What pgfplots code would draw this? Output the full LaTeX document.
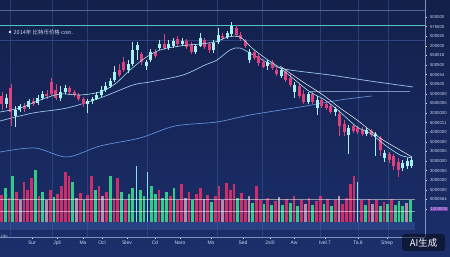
\documentclass[border=0pt]{standalone}
\usepackage{fontspec}
\setmainfont{Liberation Sans}
\newfontfamily\cjk{Noto Sans CJK SC}
\usepackage{pgfplots}
\pgfplotsset{compat=1.18}
\usepackage{pgfplotstable}
\definecolor{bgtop}{HTML}{13204B}
\definecolor{bgbot}{HTML}{1C2F6C}
\definecolor{upc}{HTML}{A6F0EE}
\definecolor{dnc}{HTML}{E0407E}
\definecolor{vpink}{HTML}{CC2E6A}
\definecolor{vgreen}{HTML}{33C98A}
\definecolor{vpale}{HTML}{B68AAE}
\definecolor{vcyan}{HTML}{7FE3F2}
\definecolor{topline}{HTML}{52C4C4}
\definecolor{gridc}{HTML}{3A5596}
\definecolor{labc}{HTML}{C9D3EE}
\definecolor{maA}{HTML}{A8E6F2}
\definecolor{maB}{HTML}{9CC6EC}
\definecolor{maC}{HTML}{5E8FDA}
\definecolor{vpurple}{HTML}{7B3AAE}
\setlength{\fboxsep}{0.6bp}

% candle data (y measured downward, chart units)
\pgfplotstableread{
x o c h l
2.0 96 104 92 110
6.5 104 98 94 108
11.0 88 112 84 126
15.5 116 110 106 127
20.0 110 106 104 112
24.5 106 109 103 112
29.0 107 101 99 109
33.5 101 104 98 106
38.0 103 98 95 105
42.5 98 94 91 100
47.0 94 96 90 99
51.5 82 94 78 96
56.0 90 98 84 100
60.5 98 92 86 101
65.0 92 88 85 94
69.5 88 92 86 95
74.0 92 95 90 97
78.5 95 99 93 101
83.0 99 104 97 107
87.5 104 101 99 113
92.0 101 99 97 104
96.5 99 95 92 100
101.0 95 90 86 97
105.5 90 86 82 92
110.0 86 81 78 88
114.5 80 72 66 82
119.0 70 75 64 77
123.5 62 70 57 72
128.0 70 64 60 73
132.5 64 50 42 66
137.0 50 45 42 60
141.5 54 62 52 65
146.0 66 62 60 70
150.5 60 52 49 62
155.0 52 56 49 58
159.5 48 44 40 50
164.0 44 48 34 50
168.5 48 44 40 50
173.0 46 41 38 48
177.5 39 44 36 46
182.0 44 41 38 46
186.5 41 47 39 49
191.0 44 52 42 54
195.5 52 46 44 54
200.0 46 38 33 47
204.5 40 47 38 49
209.0 44 50 42 53
213.5 50 43 40 53
218.0 42 35 28 44
222.5 36 38 33 40
227.0 37 33 31 39
231.5 34 26 22 37
236.0 28 35 25 37
240.5 35 39 32 41
245.0 41 46 39 48
249.5 60 52 49 63
254.0 52 58 50 60
258.5 56 63 54 66
263.0 62 67 59 68
267.5 66 62 60 70
272.0 62 68 60 70
276.5 70 74 66 76
281.0 76 70 68 78
285.5 72 80 70 82
290.0 78 85 74 87
294.5 92 85 82 98
299.0 86 96 84 98
303.5 94 102 90 104
308.0 102 94 92 104
312.5 94 102 92 104
317.0 108 100 96 115
321.5 100 106 98 108
326.0 104 108 101 110
330.5 106 112 104 114
335.0 112 109 107 116
339.5 114 126 110 136
344.0 124 132 120 136
348.5 135 128 125 154
353.0 126 131 124 133
357.5 128 132 126 134
362.0 130 134 127 136
366.5 134 130 128 136
371.0 131 135 129 137
375.5 136 134 132 156
380.0 138 150 136 156
384.5 158 153 150 162
389.0 154 160 152 163
393.5 156 166 154 170
398.0 162 170 158 177
402.5 168 163 160 171
407.0 166 161 158 169
411.5 166 160 157 168
}\candles

% volume data: x, top of bar, class (0 pink, 1 green, 2 pale, 3 cyan)
\pgfplotstableread{
x t k
1.5 195 0
5.25 188 1
9.0 198 0
12.75 176 1
16.5 192 0
20.25 200 2
24.0 182 0
27.75 190 0
31.5 178 0
35.25 170 1
39.0 196 0
42.75 192 1
46.5 200 2
50.25 190 0
54.0 197 1
57.75 194 0
61.5 186 0
65.25 172 0
69.0 176 0
72.75 182 1
76.5 198 2
80.25 193 0
84.0 200 1
87.75 195 0
91.5 176 0
95.25 190 1
99.0 186 0
102.75 196 2
106.5 192 0
110.25 176 1
114.0 198 0
117.75 178 0
121.5 192 1
125.25 200 0
129.0 194 1
132.75 188 1
136.5 166 3
140.25 190 1
144.0 196 1
147.75 172 3
151.5 186 1
155.25 194 1
159.0 190 0
162.75 198 1
166.5 192 1
170.25 196 0
174.0 188 1
177.75 200 0
181.5 184 0
185.25 198 2
189.0 192 0
192.75 200 1
196.5 194 0
200.25 188 0
204.0 199 2
207.75 195 0
211.5 202 1
215.25 196 0
219.0 186 0
222.75 200 2
226.5 183 0
230.25 190 0
234.0 184 0
237.75 198 1
241.5 193 0
245.25 200 0
249.0 196 2
252.75 203 1
256.5 186 0
260.25 200 0
264.0 204 1
267.75 198 0
271.5 205 1
275.25 201 0
279.0 197 2
282.75 205 1
286.5 199 0
290.25 203 1
294.0 196 0
297.75 206 1
301.5 200 0
305.25 204 2
309.0 198 0
312.75 205 1
316.5 201 0
320.25 196 0
324.0 204 1
327.75 199 0
331.5 206 1
335.25 200 0
339.0 196 2
342.75 204 0
346.5 198 0
350.25 184 0
354.0 176 0
357.75 182 3
361.5 200 0
365.25 205 1
369.0 199 0
372.75 204 2
376.5 200 0
380.25 206 1
384.0 202 0
387.75 204 1
391.5 199 0
395.25 205 1
399.0 201 1
402.75 206 1
406.5 203 2
410.25 200 1
}\vol

\begin{document}
\begin{tikzpicture}
\useasboundingbox (0,0) rectangle (450bp,257bp);
\shade[top color=bgtop, bottom color=bgbot] (0,0) rectangle (450bp,257bp);
\begin{axis}[
  at={(0bp,257bp)}, anchor=north west,
  scale only axis, width=425bp, height=237bp,
  xmin=0, xmax=425, ymin=0, ymax=237, y dir=reverse,
  clip=false,
  axis x line*=bottom, axis y line*=right,
  axis line style={draw=labc!60!bgbot, line width=0.4pt},
  xtick={32,57,83,102,127,155,180,211,243,270,294,325,358,387},
  xticklabels={Sur,Jpll,Ma,Ocl,Slev,Cd,Naro,Mo,Sed,2sl0,Aw,Ivel.7,Ta.8,Shep},
  ytick={17,26.6,36.2,45.8,55.4,65,74.6,84.2,93.8,103.4,113,122.6,132.2,141.8,151.4,161,170.6,180.2,189.8,199.4,209},
  yticklabels={500000,575000,500050,200000,550018,500500,600054,500500,5000000,5500000,3000000,6000011,4000000,5000000,3000000,5000000,3000000,3000000,5000000,5000564,{\colorbox{vpurple}{1000000}}},
  tick style={draw=labc!80, line width=0.4pt},
  major tick length=2bp,
  tick align=outside,
  ticklabel style={text=labc, font=\fontsize{4.3}{5}\selectfont},
  xticklabel style={font=\fontsize{5}{6}\selectfont, yshift=1.5bp},
  yticklabel style={xshift=-0.5bp},
  extra x ticks={10,52,87,147,217,262,320,358,388},
  extra x tick labels={},
  extra x tick style={grid=major, major tick length=0pt, grid style={draw=gridc, line width=0.35pt, opacity=0.55}},
]
% horizontal guide lines
\draw[draw=gridc!80!white, line width=0.5pt, opacity=0.8] (axis cs:0,10) -- (axis cs:425,10);
\draw[draw=topline, line width=0.8pt] (axis cs:0,25) -- (axis cs:425,25);
\draw[draw=gridc, line width=0.4pt, opacity=0.7] (axis cs:0,40) -- (axis cs:425,40);
\draw[draw=maB!70, line width=0.5pt, opacity=0.6] (axis cs:310,91) -- (axis cs:410,91);
% volume bars
\fill[maC!60!bgbot, opacity=0.35] (axis cs:0,222) rectangle (axis cs:415,230);
\addplot[draw=vpink, line width=2.8bp, quiver={u=0, v=\thisrow{t}-222},
  restrict expr to domain={\thisrow{k}}{-0.5:0.5}] table[x=x, y expr=222] {\vol};
\addplot[draw=vgreen, line width=2.8bp, quiver={u=0, v=\thisrow{t}-222},
  restrict expr to domain={\thisrow{k}}{0.5:1.5}] table[x=x, y expr=222] {\vol};
\addplot[draw=vpale, line width=2.8bp, quiver={u=0, v=\thisrow{t}-222},
  restrict expr to domain={\thisrow{k}}{1.5:2.5}] table[x=x, y expr=222] {\vol};
\addplot[draw=vcyan, line width=1.2bp, quiver={u=0, v=\thisrow{t}-222},
  restrict expr to domain={\thisrow{k}}{2.5:3.5}] table[x=x, y expr=222] {\vol};
\draw[draw=white, line width=0.5pt, opacity=0.5] (axis cs:0,199) -- (axis cs:415,199);
\draw[draw=white, line width=0.5pt, opacity=0.5] (axis cs:0,211) -- (axis cs:415,211);
% moving averages
\addplot[draw=maC, line width=0.7pt, smooth, tension=0.5] coordinates {
 (0,152) (35,148) (67,157) (100,146) (140,138) (175,126) (217,122) (250,115) (300,107) (340,100) (372,96)};
\addplot[draw=maB, line width=0.7pt, smooth, tension=0.5] coordinates {
 (0,121) (33,113) (67,108) (100,98) (133,85) (150,82) (183,75) (205,65) (217,60) (230,50) (240,48) (255,56) (275,66) (290,70) (330,75) (370,81) (413,87)};
% candles: wicks and bodies
\addplot[draw=upc, line width=0.6bp, quiver={u=0, v=\thisrow{l}-\thisrow{h}},
  restrict expr to domain={\thisrow{o}-\thisrow{c}}{0:1000}] table[x=x, y=h] {\candles};
\addplot[draw=dnc, line width=0.6bp, quiver={u=0, v=\thisrow{l}-\thisrow{h}},
  restrict expr to domain={\thisrow{c}-\thisrow{o}}{0:1000}] table[x=x, y=h] {\candles};
\addplot[draw=upc, line width=3bp, quiver={u=0, v=\thisrow{c}-\thisrow{o}},
  restrict expr to domain={\thisrow{o}-\thisrow{c}}{0:1000}] table[x=x, y=o] {\candles};
\addplot[draw=dnc, line width=3bp, quiver={u=0, v=\thisrow{c}-\thisrow{o}},
  restrict expr to domain={\thisrow{c}-\thisrow{o}}{0:1000}] table[x=x, y=o] {\candles};
\addplot[draw=maA, line width=0.6pt, smooth, tension=0.5] coordinates {
 (0,112) (20,108) (40,100) (60,94) (80,95) (100,92) (115,84) (130,70) (145,58) (160,50) (180,46) (200,44) (215,42) (228,37) (240,37) (252,48) (265,58) (280,68) (295,80) (310,92) (325,100) (340,112) (357,127) (370,133) (385,145) (400,155) (412,158)};
\addplot[draw=white!85!maA, line width=0.5pt, smooth, tension=0.5] coordinates {
 (280,66) (300,80) (323,95) (340,108) (357,120) (380,138) (400,150) (412,157)};
\end{axis}
% title and annotations
\fill[labc!50] (10bp,225bp) circle (1.4bp);
\node[anchor=west, text=labc, font=\fontsize{5.5}{6}\selectfont, inner sep=0pt] at (13.5bp,225bp) {{\cjk 2014年 比特币价格} coin.};
\node[anchor=west, text=labc!70, font=\fontsize{3.5}{4}\selectfont, inner sep=0pt] at (1bp,21bp) {Llim};
\fill[black, opacity=0.45, rounded corners=3bp] (402bp,6bp) rectangle (445bp,23bp);
\node[text=white!92, font=\cjk\fontsize{9.5}{10}\selectfont, inner sep=0pt] at (423.5bp,14.5bp) {AI生成};
\end{tikzpicture}
\end{document}
